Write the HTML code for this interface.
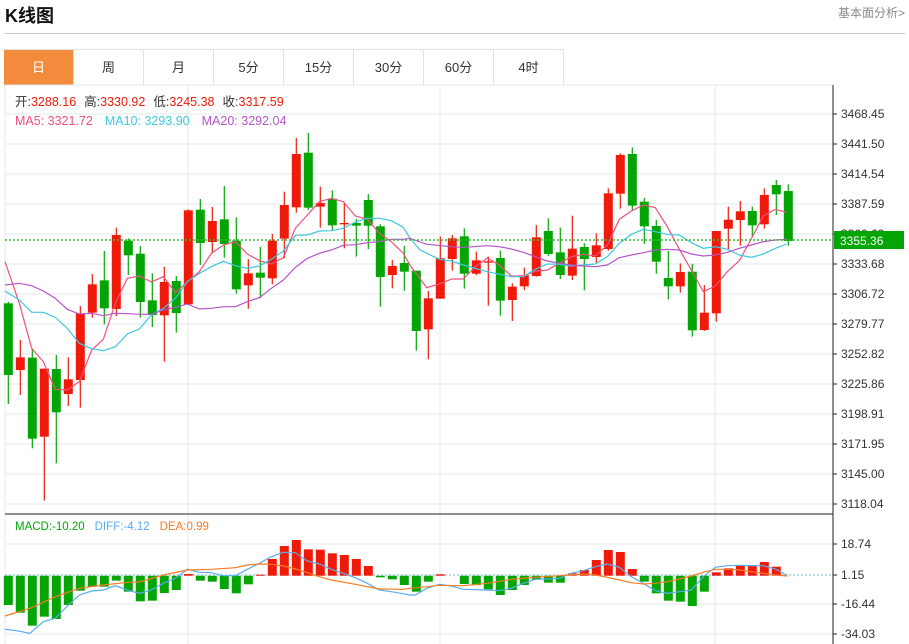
<!DOCTYPE html>
<html><head><meta charset="utf-8">
<style>
body{margin:0;width:909px;height:644px;background:#fff;font-family:"Liberation Sans","Noto Sans CJK SC",sans-serif;overflow:hidden;position:relative}
.t{position:absolute;left:5px;top:2px;font-size:18px;font-weight:bold;color:#111}
.lk{position:absolute;right:4px;top:4px;font-size:12px;color:#888}
.hr{position:absolute;left:4px;top:33px;width:901px;height:1px;background:#ccc}
.tabs{position:absolute;left:4px;top:49px;height:35px;display:flex;border-top:1px solid #dde3ea}
.tab{width:69px;height:35px;line-height:35px;text-align:center;font-size:13px;color:#333;border-right:1px solid #dde3ea}
.tab.on{background:#f28b3c;color:#fff}
</style></head><body>
<div class="t">K线图</div>
<div class="lk">基本面分析&gt;</div>
<div class="hr"></div>
<div class="tabs"><div class="tab on">日</div><div class="tab">周</div><div class="tab">月</div><div class="tab">5分</div><div class="tab">15分</div><div class="tab">30分</div><div class="tab">60分</div><div class="tab">4时</div></div>
<svg id="s" width="909" height="644" style="position:absolute;left:0;top:0" font-family="Liberation Sans, Noto Sans CJK SC, sans-serif"></svg>
<script>
var S=document.getElementById('s'),h='';
function L(x1,y1,x2,y2,c,w,d){h+='<line x1="'+x1+'" y1="'+y1+'" x2="'+x2+'" y2="'+y2+'" stroke="'+c+'" stroke-width="'+(w||1)+'"'+(d?' stroke-dasharray="'+d+'"':'')+'/>';}
function T(x,y,s,c,sz,a){h+='<text x="'+x+'" y="'+y+'" fill="'+c+'" font-size="'+(sz||12)+'"'+(a?' text-anchor="'+a+'"':'')+'>'+s+'</text>';}
var G='#e1e8ef';
// frame
L(5,85,5,644,G);L(5,85,833,85,G);
for(var k=0;k<14;k++){L(5,114+30*k,833,114+30*k,G);}
[188,440,715].forEach(function(x){L(x,85,x,644,G);});
[544,604,634].forEach(function(y){L(5,y,833,y,G);});
L(5,575,833,575,'#b8dcec',2,'2,2');
L(5,514,833,514,'#222');L(833,85,833,644,'#222');
var labs=['3468.45','3441.50','3414.54','3387.59','3360.63','3333.68','3306.72','3279.77','3252.82','3225.86','3198.91','3171.95','3145.00','3118.04'];
labs.forEach(function(s,i){L(833,114+30*i,837,114+30*i,'#222');T(841,118+30*i,s,'#333',12);});
[['18.74',544],['1.15',575],['-16.44',604],['-34.03',634]].forEach(function(a){L(833,a[1],837,a[1],'#222');T(841,a[1]+4,a[0],'#333',12);});
var R='#f01a0a',GR='#04a504';
var C=[['G',520,735,515,822],['R',682,720,630,795],['G',683,926,655,955],['R',716,920,716,1112],['G',717,847,675,1000],['R',748,792,682,828],['R',550,750,528,833],['R',463,548,432,563],['G',451,535,363,583],['R',315,537,293,558],['G',332,376,325,435],['G',371,516,348,563],['G',511,555,430,591],['R',456,556,411,695],['G',453,549,438,608],['R',241,523,238,523],['G',239,339,207,405],['R',273,336,231,370],['G',268,342,168,383],['G',332,478,262,491],['R',430,466,387,536],['G',428,443,350,505],['R',332,445,312,463],['R',225,326,185,385],['R',72,232,24,248],['G',68,233,9,240],['R',219,230,170,293],['G',206,286,181,303],['R',279,283,220,355],['G',279,287,267,380],['G',210,287,192,357],['G',289,441,283,530],['R',408,435,390,475],['G',399,425,348,482],['G',422,603,422,662],
['R',505,598,483,688],['R',385,506,320,506],['R',325,387,315,422],['G',319,431,295,476],['R',391,431,365,436],['R',394,398,380,527],['G',384,512,362,557],['R',470,510,460,573],['R',436,469,413,480],['R',322,438,285,440],['G',303,372,265,378],['G',367,435,293,447],['R',356,437,257,450],['G',351,387,340,481],['R',346,381,310,398],['R',190,357,175,362],['R',75,191,70,236],['G',72,227,52,243],['G',215,289,204,342],['G',288,395,270,431],['G',444,469,363,508],['R',426,469,400,488],['G',425,601,401,620],['R',548,600,465,603],['R',303,550,303,575],['R',269,296,230,360],['R',244,270,213,347],['G',243,286,230,320],['R',195,283,175,296],['G',165,193,150,255],['G',183,333,163,347]];
function Y(z){return z/3+130;}
C.forEach(function(c,i){var x=8.3+12*i,col=c[0]=='R'?R:GR;L(x,Y(c[3]),x,Y(c[4]),col,1.2);var t=Y(c[1]),b=Y(c[2]);h+='<rect x="'+(x-4.5)+'" y="'+t+'" width="9" height="'+Math.max(1,b-t)+'" fill="'+col+'"/>';});
function P(a2,a3,col){var pts=[];a2.forEach(function(p){pts.push((p[0]/3)+','+Y(p[1]));});a3.forEach(function(p){pts.push((p[0]/3+410)+','+Y(p[1]));});h+='<polyline points="'+pts.join(' ')+'" fill="none" stroke="'+col+'" stroke-width="1.2"/>';}
P([[15,395],[58,520],[95,655],[130,695],[166,778],[202,780],[238,755],[275,660],[310,628],[346,520],[382,445],[418,438],[454,456],[490,440],[526,488],[562,455],[598,425],[634,370],[670,345],[706,335],[742,372],[778,392],[814,402],[850,383],[886,295],[922,255],[958,215],[994,205],[1030,215],[1066,258],[1102,268],[1138,310],[1174,335],[1210,370]],[[0,405],[50,473],[88,462],[125,447],[160,447],[196,410],[232,384],[268,405],[304,438],[340,438],[376,424],[412,420],[448,400],[484,380],[520,373],[556,378],[592,345],[628,268],[664,243],[700,225],[736,233],[772,290],[808,358],[844,420],[880,485],[916,468],[952,425],[988,392],[1024,326],[1060,258],[1096,238],[1130,247]],'#f0507f');
P([[15,483],[58,510],[95,547],[130,547],[166,562],[202,595],[238,640],[275,656],[310,662],[346,650],[382,612],[418,597],[454,555],[490,535],[526,505],[562,455],[598,430],[634,410],[670,394],[706,407],[742,415],[778,408],[814,388],[850,363],[886,316],[922,315],[958,303],[994,302],[1030,295],[1066,276],[1102,265],[1138,265],[1174,272],[1210,292]],[[0,325],[30,360],[88,388],[125,393],[160,405],[232,425],[304,440],[340,440],[376,418],[412,402],[448,403],[484,408],[520,405],[556,402],[592,380],[628,340],[664,313],[700,298],[736,305],[772,313],[808,315],[844,338],[880,355],[916,350],[952,358],[988,375],[1024,382],[1060,372],[1096,355],[1130,342]],'#3ec8e0');
P([[15,465],[58,460],[95,467],[130,483],[166,505],[202,538],[238,552],[275,550],[310,557],[346,550],[382,551],[418,553],[454,553],[490,540],[526,532],[562,522],[598,537],[634,535],[670,530],[706,530],[742,515],[778,503],[814,475],[850,450],[886,412],[922,385],[958,370],[994,360],[1030,346],[1066,344],[1102,338],[1138,335],[1174,328],[1210,328]],[[0,325],[50,343],[125,350],[160,352],[232,347],[268,350],[304,357],[340,367],[376,380],[412,393],[448,400],[484,405],[520,408],[556,410],[592,405],[628,383],[664,375],[700,368],[736,360],[772,358],[808,360],[844,372],[880,378],[916,375],[952,367],[988,355],[1024,345],[1060,335],[1096,330],[1130,328]],'#b655c8');
L(5,240,833,240,'#3cb83c',1.5,'2,2');
h+='<rect x="834" y="231" width="70" height="18" fill="#04a504"/>';T(840,245,'3355.36','#fff',12);
// MACD bars
var M=[225,248,287,260,267,225,182,170,170,152,185,214,212,189,180,132,152,155,177,190,163,134,87,48,30,58,59,70,75,87,108,142,148,165,185,155,133,137,162,165,178,195,180,165,148,158,158,130,120,90,60,66,117,155,190,212,215,228,185,127,115,106,106,96,110,137];
M.forEach(function(z,i){var x=8.3+12*i,y=530+z/3,z0=575.7;if(Math.abs(y-z0)<0.5)return;var col=y<z0?R:GR;h+='<rect x="'+(x-4.5)+'" y="'+Math.min(y,z0)+'" width="9" height="'+Math.abs(y-z0)+'" fill="'+col+'"/>';});
function Q(a5,a6,col){var pts=[];a5.forEach(function(p){pts.push((p[0]/3)+','+(530+p[1]/3));});a6.forEach(function(p){pts.push((p[0]/3+410)+','+(530+p[1]/3));});h+='<polyline points="'+pts.join(' ')+'" fill="none" stroke="'+col+'" stroke-width="1.2"/>';}
Q([[15,298],[50,302],[90,310],[130,275],[166,265],[202,228],[238,195],[275,183],[310,180],[346,167],[382,180],[418,190],[454,180],[490,160],[526,145],[562,118],[598,127],[634,128],[670,137],[706,137],[742,118],[778,100],[814,80],[850,67],[886,68],[922,93],[958,102],[994,118],[1030,130],[1066,143],[1102,160],[1138,180],[1174,185],[1210,191]],[[0,195],[16,195],[50,175],[88,163],[125,168],[160,178],[232,180],[268,182],[304,175],[340,160],[376,148],[412,147],[448,145],[484,130],[520,122],[556,110],[592,102],[628,112],[664,140],[700,160],[736,182],[772,190],[808,185],[844,180],[880,140],[916,112],[952,107],[988,106],[1024,107],[1060,107],[1096,117],[1132,137]],'#5aabef');
Q([[15,258],[90,235],[166,200],[238,175],[310,165],[382,157],[418,156],[490,135],[562,120],[634,118],[706,113],[742,105],[778,102],[814,103],[850,108],[886,117],[922,128],[958,140],[994,150],[1066,163],[1138,177],[1210,178]],[[0,175],[52,170],[88,166],[160,167],[232,160],[304,148],[376,142],[448,137],[520,132],[556,135],[592,142],[628,150],[664,158],[700,162],[736,160],[772,155],[808,147],[844,138],[880,127],[916,118],[952,118],[988,120],[1024,125],[1060,130],[1096,135],[1132,138]],'#f57c22');
// legends
h+='<text x="15" y="106" font-size="12.5"><tspan fill="#333">开:</tspan><tspan fill="#f01a0a">3288.16</tspan><tspan fill="#333" dx="8">高:</tspan><tspan fill="#f01a0a">3330.92</tspan><tspan fill="#333" dx="8">低:</tspan><tspan fill="#f01a0a">3245.38</tspan><tspan fill="#333" dx="8">收:</tspan><tspan fill="#f01a0a">3317.59</tspan></text>';
h+='<text x="15" y="125" font-size="12.5"><tspan fill="#f0507f">MA5: 3321.72</tspan><tspan fill="#3ec8e0" dx="12">MA10: 3293.90</tspan><tspan fill="#b655c8" dx="12">MA20: 3292.04</tspan></text>';
h+='<text x="15" y="530" font-size="11.5"><tspan fill="#04a504">MACD:-10.20</tspan><tspan fill="#5aabef" dx="10">DIFF:-4.12</tspan><tspan fill="#f57c22" dx="10">DEA:0.99</tspan></text>';
S.innerHTML=h;
</script>
</body></html>
